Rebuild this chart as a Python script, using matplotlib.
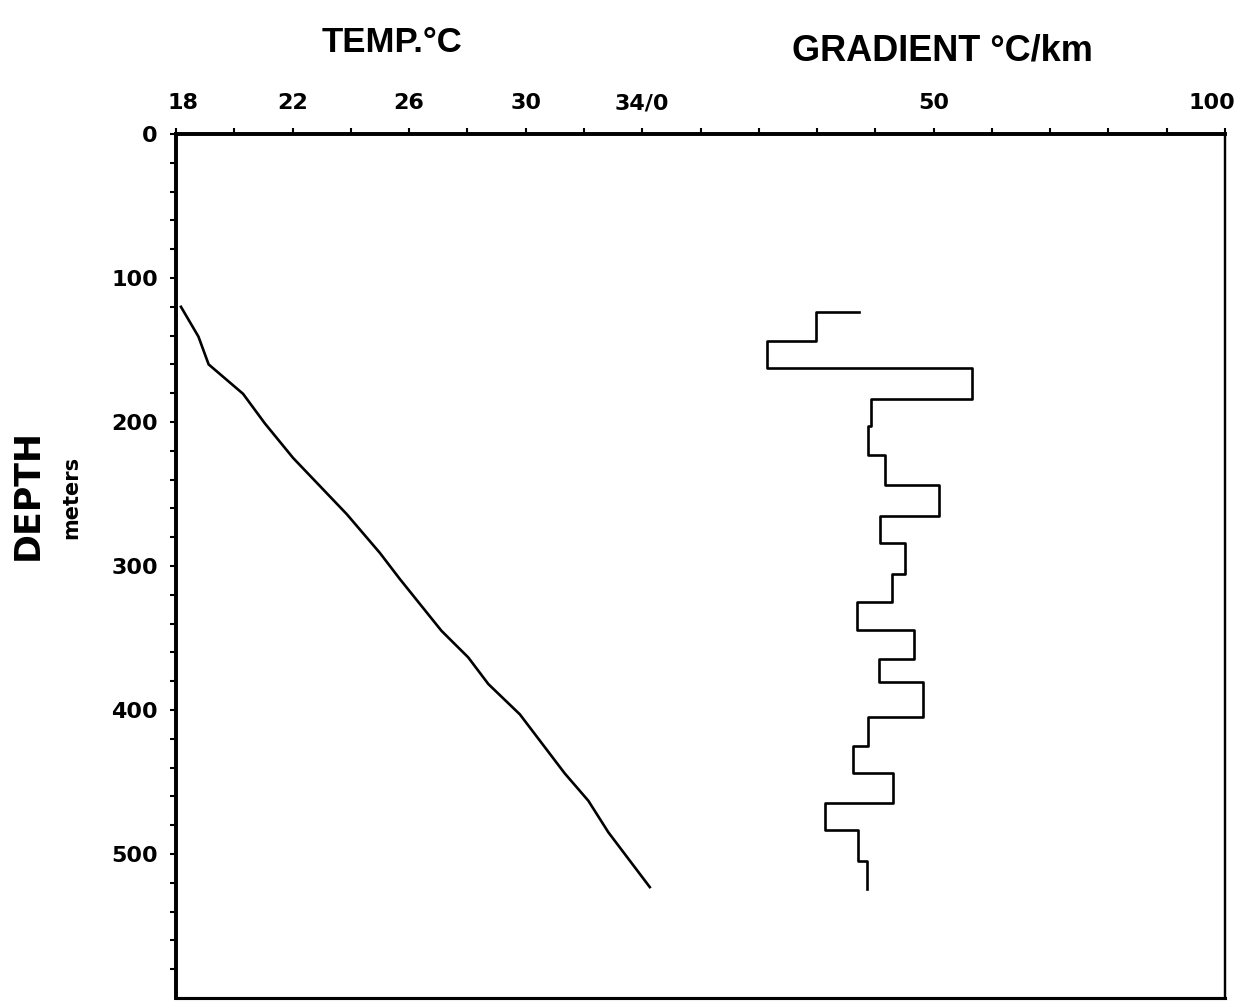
import matplotlib
matplotlib.use("Agg")
import matplotlib.pyplot as plt
import matplotlib.transforms as mt

# ---- data ----
temp_depth = [120, 140.7, 160, 180.4, 201, 225, 264, 291, 309, 345, 363.5, 382, 403, 444, 463, 485, 523]
temp_vals = [18.17, 18.77, 19.12, 20.30, 21.05, 22.02, 23.86, 25.0, 25.68, 27.11, 28.03, 28.72, 29.80, 31.34, 32.15, 32.84, 34.26]

grad_start = 37.2
grad_bounds = [123.4, 143.5, 162.6, 183.9, 203, 223, 244, 265, 284.3, 305.3, 324.7,
               344.4, 364.7, 380.4, 404.7, 424.8, 444, 464.5, 483.3, 505.2, 524]
grad_vals = [29.9, 21.4, 56.6, 39.2, 38.8, 41.7, 50.9, 40.8, 45.1, 42.8,
             36.8, 46.7, 40.6, 48.2, 38.7, 36.1, 43.0, 31.4, 37.0, 38.5]

temp_ticks = [18, 22, 26, 30, 34]
temp_ticklabels = ["18", "22", "26", "30", "34/0"]
temp_minor = [20, 24, 28, 32]
grad_ticks = [50, 100]
grad_ticklabels = ["50", "100"]
grad_minor = [10, 20, 30, 40, 60, 70, 80, 90]
depth_ticks = [0, 100, 200, 300, 400, 500]
depth_minor = list(range(20, 600, 20))

W, H = 1253, 1007
fig = plt.figure(figsize=(W / 100, H / 100), dpi=100)
ax = fig.add_axes([176 / W, 1 - 998 / H, (1225 - 176) / W, (998 - 134) / H])

ax.set_xlim(18, 54)
ax.set_ylim(600, 0)

# temperature curve
ax.plot(temp_vals, temp_depth, color="black", lw=1.9)

# gradient axis
ax2 = ax.twiny()
ax2.set_xlim(-80, 100)
gx = [grad_start]
gy = [grad_bounds[0]]
for i, v in enumerate(grad_vals):
    gx += [v, v]
    gy += [grad_bounds[i], grad_bounds[i + 1]]
ax2.plot(gx, gy, color="black", lw=1.9)

tickfont = dict(family="DejaVu Sans", weight="bold", size=16)

ax.xaxis.tick_top()
ax.set_xticks(temp_ticks)
ax.set_xticklabels(temp_ticklabels, **tickfont)
ax.set_xticks(temp_minor, minor=True)
ax2.set_xticks(grad_ticks)
ax2.set_xticklabels(grad_ticklabels, **tickfont)
ax2.set_xticks(grad_minor, minor=True)

ax.set_yticks(depth_ticks)
ax.set_yticklabels([str(d) for d in depth_ticks], **tickfont)
ax.set_yticks(depth_minor, minor=True)

for a in (ax, ax2):
    a.tick_params(axis="x", which="both", direction="out", length=4, width=1.5, pad=11,
                  top=True, bottom=False, labeltop=True, labelbottom=False)
ax.tick_params(axis="y", which="both", direction="out", length=4, width=1.5, pad=9)
ax2.tick_params(axis="y", left=False, right=False)

for a in (ax, ax2):
    a.spines["left"].set_linewidth(2.6)
    a.spines["top"].set_linewidth(2.6)
    a.spines["right"].set_linewidth(1.6)
    a.spines["bottom"].set_linewidth(2.2)

# small offsets for edge labels
lbl100 = ax2.get_xticklabels()[1]
lbl100.set_horizontalalignment("right")
lbl100.set_transform(lbl100.get_transform() + mt.ScaledTranslation(0.1, 0, fig.dpi_scale_trans))
lbl18 = ax.get_xticklabels()[0]
lbl18.set_transform(lbl18.get_transform() + mt.ScaledTranslation(0.07, 0, fig.dpi_scale_trans))

titlefont = dict(family=["Liberation Sans Narrow", "Liberation Sans", "DejaVu Sans"], weight="bold")
fig.text(392 / W, 1 - 42 / H, "TEMP.°C", ha="center", va="center", fontsize=25, **titlefont)
fig.text(942 / W, 1 - 51 / H, "GRADIENT °C/km", ha="center", va="center", fontsize=26, **titlefont)

fig.text(28 / W, 1 - 495 / H, "DEPTH", rotation=90, ha="center", va="center",
         fontsize=25, family="DejaVu Sans", weight="bold")
fig.text(71 / W, 1 - 497 / H, "meters", rotation=90, ha="center", va="center",
         fontsize=15, family="DejaVu Sans", weight="bold")

fig.savefig("out.png", dpi=100)
